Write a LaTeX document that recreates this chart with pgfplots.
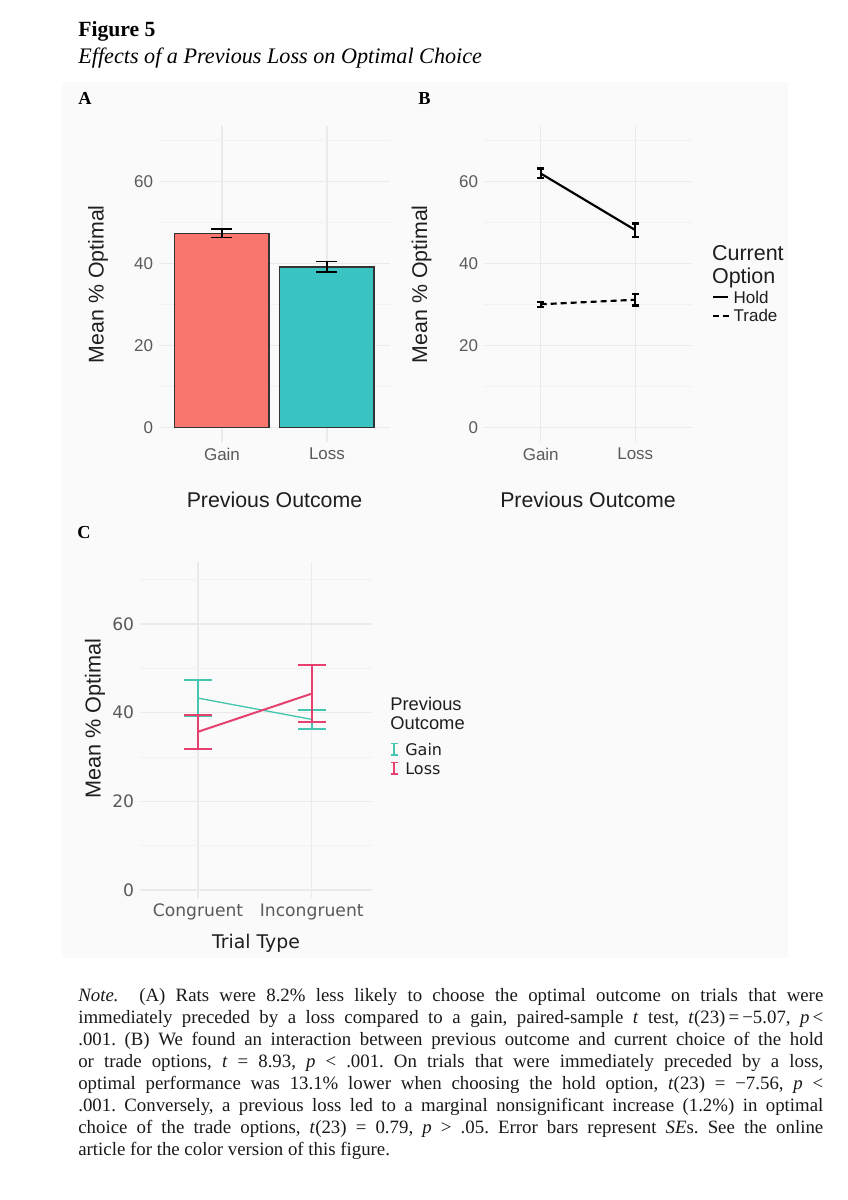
\documentclass[border=0pt]{standalone}
\usepackage{fontspec}
\setmainfont{Liberation Serif}
\newfontfamily\arial{Liberation Sans}
\newfontfamily\dejavu{DejaVu Sans}
\usepackage{pgfplots}
\pgfplotsset{compat=1.18}

\definecolor{gainred}{HTML}{F8766D}
\definecolor{losscyan}{HTML}{3AC3C3}
\definecolor{cteal}{HTML}{45C6B0}
\definecolor{cred}{HTML}{E5406E}
\definecolor{panelbg}{HTML}{FAFAFA}
\definecolor{gridmaj}{HTML}{EAEAEA}
\definecolor{gridmin}{HTML}{F2F2F2}
\definecolor{ticktext}{HTML}{5A5A5A}
\definecolor{titletext}{HTML}{1E1E1E}

\pgfplotsset{
  ggmin/.style={
    scale only axis,
    axis line style={draw=none},
    tick style={draw=none},
    grid=both,
    major grid style={gridmaj, line width=0.7pt},
    minor grid style={gridmin, line width=0.4pt},
    ytick={0,20,40,60},
    minor ytick={10,30,50,70},
    xtick={1,2},
    /pgf/number format/assume math mode=true,
    ticklabel style={text=ticktext},
    label style={text=titletext},
    clip=false,
  },
  absans/.style={
    ticklabel style={font=\arial\fontsize{10.2}{12}\selectfont},
    label style={font=\arial\fontsize{12.8}{15}\selectfont},
  }
}

\begin{document}
\frenchspacing
\begin{tikzpicture}
\begin{scope}[x=0.6pt,y=-0.6pt]
  \path[use as bounding box, fill=white] (0,0) rectangle (848,1200);
  \fill[panelbg] (62,82) rectangle (788,958);
  \coordinate (pa) at (159,442);
  \coordinate (pb) at (484,442);
  \coordinate (pc) at (140,898);
  % titles
  \node[anchor=base west, inner sep=0, font=\bfseries\fontsize{13}{15}\selectfont] at (78,36.7) {Figure 5};
  \node[anchor=base west, inner sep=0, font=\itshape\fontsize{13.3}{16}\selectfont] at (78,63.3) {Effects of a Previous Loss on Optimal Choice};
  \node[anchor=base west, inner sep=0, font=\bfseries\fontsize{11}{13}\selectfont] at (78,104) {A};
  \node[anchor=base west, inner sep=0, font=\bfseries\fontsize{11}{13}\selectfont] at (418,104) {B};
  \node[anchor=base west, inner sep=0, font=\bfseries\fontsize{11}{13}\selectfont] at (77,538) {C};
\end{scope}

% Panel A
\begin{axis}[ggmin, absans, at={(pa)}, anchor=south west,
  width=138.6pt, height=189.4pt,
  xmin=0.4, xmax=2.6, ymin=-3.5, ymax=73.5,
  xticklabels={Gain,Loss},
  ylabel={Mean \% Optimal}, xlabel={Previous Outcome},
  ylabel style={at={(axis description cs:-0.264,0.5)}, anchor=center},
  xlabel style={at={(axis description cs:0.5,-0.184)}, anchor=center}]
\addplot[ybar, bar width=56.7pt, bar shift=0pt, fill=gainred, draw=black!80, line width=0.9pt,
  error bars/.cd, y dir=both, y explicit,
  error bar style={line width=0.75pt, black},
  error mark options={rotate=90, line width=0.75pt, mark size=6.3pt, black}]
  coordinates {(1,47.4) +- (0,1.05)};
\addplot[ybar, bar width=56.7pt, bar shift=0pt, fill=losscyan, draw=black!80, line width=0.9pt,
  error bars/.cd, y dir=both, y explicit,
  error bar style={line width=0.75pt, black},
  error mark options={rotate=90, line width=0.75pt, mark size=6.3pt, black}]
  coordinates {(2,39.2) +- (0,1.25)};
\end{axis}

% Panel B
\begin{axis}[ggmin, absans, at={(pb)}, anchor=south west,
  width=124.8pt, height=189.4pt,
  xmin=0.4, xmax=2.6, ymin=-3.5, ymax=73.5,
  xticklabels={Gain,Loss},
  ylabel={Mean \% Optimal}, xlabel={Previous Outcome},
  ylabel style={at={(axis description cs:-0.30,0.5)}, anchor=center},
  xlabel style={at={(axis description cs:0.5,-0.184)}, anchor=center}]
\addplot[black, line width=1.3pt, no markers,
  error bars/.cd, y dir=both, y explicit,
  error bar style={line width=1.3pt, solid},
  error mark options={rotate=90, line width=1.3pt, mark size=2.1pt, solid}]
  coordinates {(1,62.0) +- (0,1.2) (2,48.2) +- (0,1.6)};
\addplot[black, line width=1.3pt, no markers, dash pattern=on 3.6pt off 2.4pt,
  error bars/.cd, y dir=both, y explicit,
  error bar style={line width=1.3pt, solid},
  error mark options={rotate=90, line width=1.3pt, mark size=2.1pt, solid}]
  coordinates {(1,30.1) +- (0,0.6) (2,31.2) +- (0,1.4)};
\end{axis}

% Panel C
\begin{axis}[ggmin, at={(pc)}, anchor=south west,
  width=139.2pt, height=201.6pt,
  xmin=0.49, xmax=2.53, ymin=-1.8, ymax=74,
  xticklabels={Congruent,Incongruent},
  ticklabel style={font=\dejavu\fontsize{10.3}{12}\selectfont},
  ylabel={Mean \% Optimal}, xlabel={Trial Type},
  ylabel style={font=\arial\fontsize{13}{15}\selectfont, at={(axis description cs:-0.194,0.534)}, anchor=center},
  xlabel style={font=\dejavu\fontsize{11.3}{13}\selectfont, at={(axis description cs:0.5,-0.134)}, anchor=center}]
\addplot[cteal, line width=0.8pt, no markers,
  error bars/.cd, y dir=both, y explicit,
  error bar style={line width=1.2pt},
  error mark options={rotate=90, line width=1.2pt, mark size=8.4pt}]
  coordinates {(1,43.3) += (0,4.1) -= (0,4.0) (2,38.5) += (0,2.2) -= (0,2.2)};
\addplot[cred, line width=1.2pt, no markers,
  error bars/.cd, y dir=both, y explicit,
  error bar style={line width=1.2pt},
  error mark options={rotate=90, line width=1.2pt, mark size=8.4pt}]
  coordinates {(1,35.7) += (0,3.9) -= (0,3.9) (2,44.3) += (0,6.5) -= (0,6.5)};
\end{axis}

\begin{scope}[x=0.6pt,y=-0.6pt]
  % legend B
  \node[anchor=base west, inner sep=0, font=\arial\fontsize{12.9}{15}\selectfont, text=titletext] at (711.7,260) {Current};
  \node[anchor=base west, inner sep=0, font=\arial\fontsize{12.9}{15}\selectfont, text=titletext] at (711.7,283.3) {Option};
  \draw[black, line width=1.3pt] (713,297) -- (728,297);
  \draw[black, line width=1.3pt] (713,315.7) -- (719,315.7) (722.5,315.7) -- (728.5,315.7);
  \node[anchor=base west, inner sep=0, font=\arial\fontsize{10.2}{12}\selectfont, text=titletext] at (733.3,303.3) {Hold};
  \node[anchor=base west, inner sep=0, font=\arial\fontsize{10.2}{12}\selectfont, text=titletext] at (733.3,321.7) {Trade};
  % legend C
  \node[anchor=base west, inner sep=0, font=\arial\fontsize{11}{13}\selectfont, text=titletext] at (390,710) {Previous};
  \node[anchor=base west, inner sep=0, font=\arial\fontsize{11}{13}\selectfont, text=titletext] at (390,729.3) {Outcome};
  \draw[cteal, line width=0.9pt] (394,743.3) -- (394,755) (390.5,743.3) -- (397.5,743.3) (390.5,755) -- (397.5,755);
  \draw[cred, line width=0.9pt] (394,762.3) -- (394,774) (390.5,762.3) -- (397.5,762.3) (390.5,774) -- (397.5,774);
  \node[anchor=base west, inner sep=0, font=\dejavu\fontsize{9.6}{12}\selectfont, text=titletext] at (405,755) {Gain};
  \node[anchor=base west, inner sep=0, font=\dejavu\fontsize{9.6}{12}\selectfont, text=titletext] at (405,774) {Loss};
  % note
  \node[anchor=north west, inner sep=0, text width=447pt, align=justify,
        font=\fontsize{11.3}{13.2}\selectfont, text=black!90] at (78,988) {%
    \textit{Note.}\hspace{1.1em}(A) Rats were 8.2\% less likely to choose the optimal outcome on trials that were\linebreak
    immediately preceded by a loss compared to a gain, paired-sample \textit{t} test, \textit{t}(23)\,=\,−5.07, \textit{p}\,<\linebreak
    .001. (B) We found an interaction between previous outcome and current choice of the hold\linebreak
    or trade options, \textit{t} = 8.93, \textit{p} < .001. On trials that were immediately preceded by a loss,\linebreak
    optimal performance was 13.1\% lower when choosing the hold option, \textit{t}(23) = −7.56, \textit{p} <\linebreak
    .001. Conversely, a previous loss led to a marginal nonsignificant increase (1.2\%) in optimal\linebreak
    choice of the trade options, \textit{t}(23) = 0.79, \textit{p} > .05. Error bars represent \textit{SE}s. See the online\linebreak
    article for the color version of this figure.};
\end{scope}
\end{tikzpicture}
\end{document}
